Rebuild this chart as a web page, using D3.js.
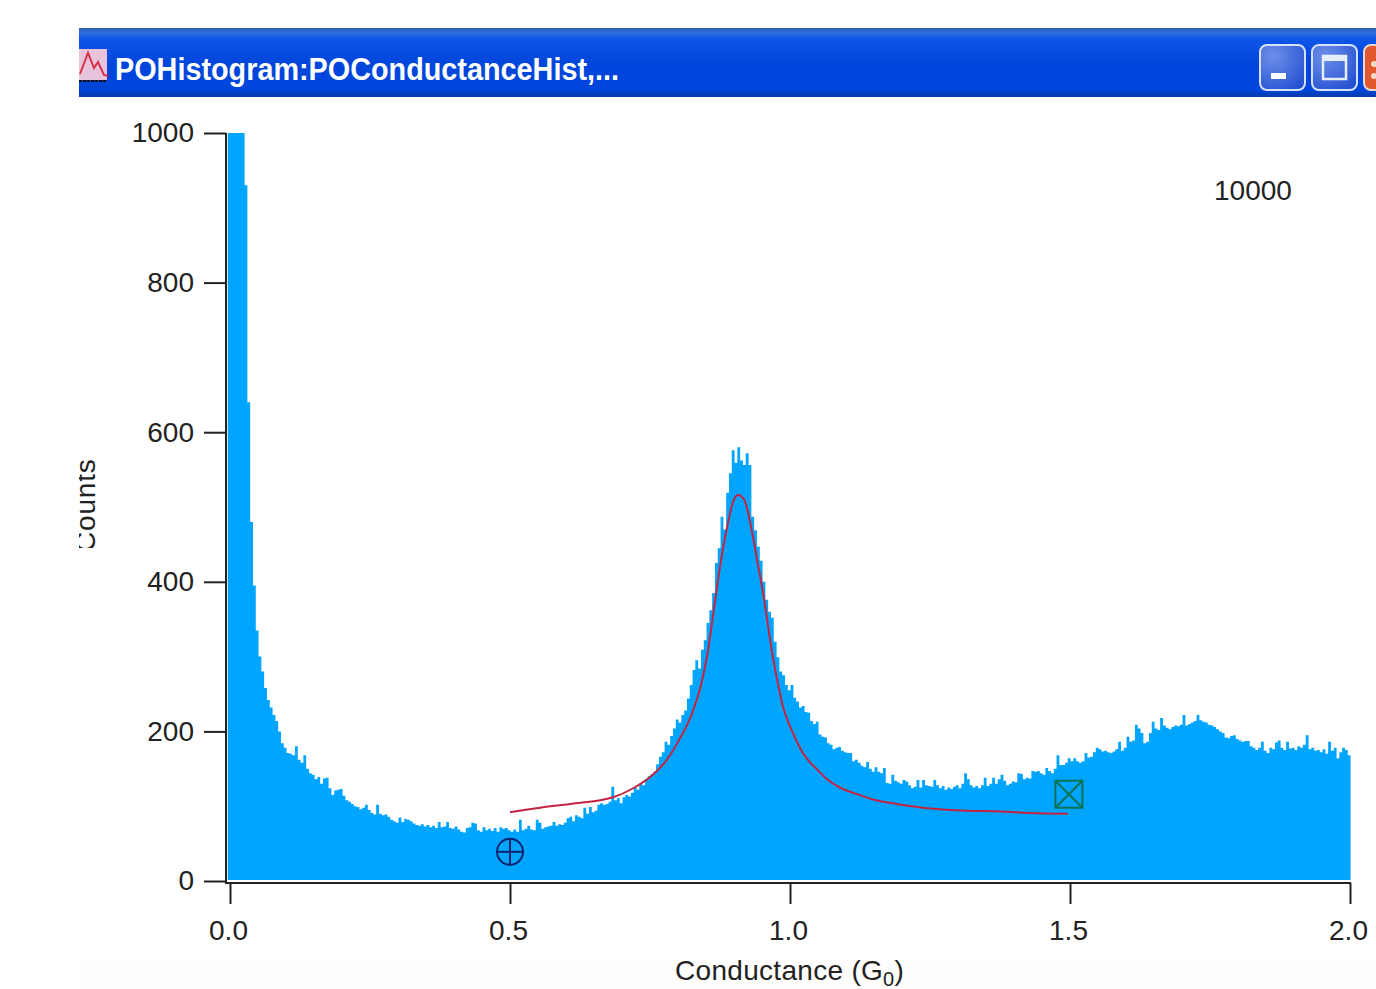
<!DOCTYPE html>
<html>
<head>
<meta charset="utf-8">
<script src="https://cdnjs.cloudflare.com/ajax/libs/d3/7.8.5/d3.min.js"></script>
<style>
    html, body { margin: 0; padding: 0; background: #fff; overflow: hidden; }
    text { font-family: "Liberation Sans", sans-serif; fill: #222; }
</style>
</head>
<body>
<script>
var title = "POHistogram:POConductanceHist,...";
var xLabel = "Conductance (G";
var xLabelSub = "0";
var yLabel = "Counts";
var totalLabel = "10000";
var xTicks = [0, 0.5, 1, 1.5, 2];
var yTicks = [0, 200, 400, 600, 800, 1000];

// histogram counts, bin width 0.005 G0
var binStart = -0.004;
var binWidth = 0.005;
var counts = [
    1000,1000,1000,1000,1000,1000,930,640,480,395,335,300,280,258,242,232,222,214,200,184,
    178,171,170,168,180,162,158,168,150,144,142,136,139,130,137,138,124,115,121,122,
    123,114,108,106,103,100,99,96,98,102,95,91,89,102,90,88,89,86,82,80,
    78,85,79,83,82,80,77,75,74,76,73,75,72,74,71,79,72,73,79,71,
    70,73,69,66,65,71,72,78,77,68,66,72,68,70,67,71,66,72,70,71,
    68,66,69,66,82,68,70,74,69,68,82,78,70,72,73,74,79,74,76,75,
    78,84,86,80,88,86,84,98,90,99,92,94,102,104,102,103,106,126,108,111,
    104,112,115,113,118,125,122,131,128,136,140,143,146,156,166,172,186,182,194,204,
    216,212,222,228,244,262,282,295,284,309,322,345,362,385,425,445,487,470,519,545,
    576,559,580,562,556,572,556,487,469,447,428,400,376,360,352,320,299,280,275,262,
    255,262,245,240,232,234,226,225,214,210,213,196,193,192,184,182,176,178,179,174,
    172,171,171,160,162,158,154,152,159,150,146,152,146,144,151,131,130,142,134,132,
    130,135,133,128,124,126,135,125,135,128,127,126,135,128,124,127,122,125,123,126,
    128,124,130,144,136,128,125,127,124,128,138,127,130,138,130,136,142,134,128,130,
    133,132,144,143,136,138,137,147,146,147,144,142,151,147,144,150,168,155,155,158,
    164,160,164,160,158,160,171,165,166,172,178,176,173,174,172,171,173,176,186,174,
    178,193,186,188,209,204,198,184,186,198,213,204,202,218,208,205,203,206,208,207,
    209,222,208,210,212,214,222,215,213,212,209,208,206,203,200,198,192,191,194,195,
    190,188,186,187,187,180,178,175,178,186,174,171,178,176,185,188,178,175,186,177,
    178,175,180,178,182,195,176,178,174,175,172,176,170,186,174,178,164,172,178,175,
    168
];

// fit curve
var fitX = [0.5,0.554,0.607,0.684,0.72,0.755,0.78,0.8,0.827,0.843,0.854,0.8625,0.875,0.889,0.898,0.907,0.918,0.929,0.941,
            0.952,0.961,0.97,0.979,0.9875,1.004,1.023,1.05,1.068,1.089,1.12,1.148,1.191,1.25,1.316,1.375,1.429,1.496];
var fitY = [92,98,103,112,124,142,162,186,228,268,310,355,420,478,506,516,510,479,430,
            385,340,297,262,233,200,171,148,135,125,116,109,103,97,94,93,91,90];

// the two cursors
var cursorA = [0.5, 39];
var cursorB = [1.498, 116];

function init(){

    var w = 1376;
    var h = 989;

    var svg = d3.select("body")
                .append("svg")
                .attr("width", w)
                .attr("height", h)
                .style("display", "block");

    var defs = svg.append("defs");

    var barGrad = defs.append("linearGradient")
                .attr("id", "barGrad")
                .attr("x1", 0).attr("x2", 0).attr("y1", 0).attr("y2", 1);
    [[0, "#2f5fb8"], [0.07, "#2f6fe0"], [0.16, "#0f55e6"], [0.5, "#0046dc"], [0.9, "#0046dc"], [1, "#0a3aa8"]].forEach(function(s){
        barGrad.append("stop").attr("offset", s[0]).attr("stop-color", s[1]);
    });

    var btnGrad = defs.append("radialGradient")
                .attr("id", "btnGrad")
                .attr("cx", 0.3).attr("cy", 0.25).attr("r", 0.95);
    btnGrad.append("stop").attr("offset", 0).attr("stop-color", "#6e8fe8");
    btnGrad.append("stop").attr("offset", 1).attr("stop-color", "#1e4cd0");

    defs.append("filter").attr("id", "soft")
        .append("feGaussianBlur").attr("stdDeviation", 0.6);

    defs.append("clipPath").attr("id", "yLabelClip")
        .append("rect").attr("x", 79).attr("y", 440).attr("width", 40).attr("height", 108);

    // faint tint at the bottom of the screenshot
    svg.append("rect")
        .attr("x", 79).attr("y", 961).attr("width", w - 79).attr("height", 28)
        .attr("fill", "#fefefd");

    // title bar
    svg.append("rect")
        .attr("x", 79).attr("y", 28).attr("width", w - 79).attr("height", 69)
        .attr("fill", "url(#barGrad)");

    var icon = svg.append("g");
    icon.append("rect")
        .attr("x", 79).attr("y", 49).attr("width", 28).attr("height", 31)
        .attr("fill", "#e8c4dc");
    icon.append("path")
        .attr("d", "M80,74 L88,53 L94,68 L98,62 L104,75 L108,76")
        .attr("fill", "none").attr("stroke", "#d8304a").attr("stroke-width", 2);
    icon.append("line")
        .attr("x1", 79).attr("x2", 107).attr("y1", 81).attr("y2", 81)
        .attr("stroke", "#111").attr("stroke-width", 2).attr("stroke-dasharray", "3 1");

    svg.append("text")
        .attr("x", 115).attr("y", 80)
        .attr("textLength", 504)
        .attr("lengthAdjust", "spacingAndGlyphs")
        .attr("font-size", 31)
        .attr("font-weight", "bold")
        .style("fill", "#fff")
        .text(title);

    // window buttons
    svg.append("rect")
        .attr("x", 1260).attr("y", 45).attr("width", 45).attr("height", 45).attr("rx", 7)
        .attr("fill", "url(#btnGrad)").attr("stroke", "#d6e2fa").attr("stroke-width", 2);
    svg.append("rect")
        .attr("x", 1271).attr("y", 73).attr("width", 15).attr("height", 6)
        .attr("fill", "#fff");
    svg.append("rect")
        .attr("x", 1312).attr("y", 45).attr("width", 45).attr("height", 45).attr("rx", 7)
        .attr("fill", "url(#btnGrad)").attr("stroke", "#d6e2fa").attr("stroke-width", 2);
    svg.append("rect")
        .attr("x", 1323).attr("y", 56).attr("width", 23).attr("height", 23)
        .attr("fill", "none").attr("stroke", "#e6eefc").attr("stroke-width", 2.5);
    svg.append("rect")
        .attr("x", 1323).attr("y", 56).attr("width", 23).attr("height", 5)
        .attr("fill", "#e6eefc");
    svg.append("rect")
        .attr("x", 1364).attr("y", 45).attr("width", 30).attr("height", 45).attr("rx", 7)
        .attr("fill", "#e0582c").attr("stroke", "#e8d8d0").attr("stroke-width", 2);
    svg.append("circle")
        .attr("cx", 1374).attr("cy", 64).attr("r", 3).attr("fill", "#f4d8c8");
    svg.append("circle")
        .attr("cx", 1374).attr("cy", 76).attr("r", 3).attr("fill", "#f4d8c8");

    var x = d3.scaleLinear().domain([0, 2]).range([230, 1350]);
    var y = d3.scaleLinear().domain([0, 1000]).range([881, 133]);

    var area = d3.area()
                .x(function(d) { return x(d.x); })
                .y0(y(0) - 1)
                .y1(function(d) { return y(d.v); })
                .curve(d3.curveStepAfter);

    var bins = counts.map(function(v, i) { return {x: binStart + i * binWidth, v: v}; });
    bins.push({x: binStart + counts.length * binWidth, v: counts[counts.length - 1]});

    svg.append("path")
        .datum(bins)
        .attr("d", area)
        .attr("fill", "#00a5ff")
        .attr("filter", "url(#soft)");

    var fitLine = d3.line()
                .x(function(d) { return x(d[0]); })
                .y(function(d) { return y(d[1]); })
                .curve(d3.curveMonotoneX);

    svg.append("path")
        .datum(fitX.map(function(v, i) { return [v, fitY[i]]; }))
        .attr("d", fitLine)
        .attr("fill", "none")
        .attr("stroke", "#c42440")
        .attr("stroke-width", 2);

    // cursor A, round
    var ax = x(cursorA[0]), ay = y(cursorA[1]);
    var curA = svg.append("g").attr("stroke", "#10246e").attr("stroke-width", 2).attr("fill", "none");
    curA.append("circle").attr("cx", ax).attr("cy", ay).attr("r", 13);
    curA.append("line").attr("x1", ax - 13).attr("x2", ax + 13).attr("y1", ay).attr("y2", ay);
    curA.append("line").attr("x1", ax).attr("x2", ax).attr("y1", ay - 13).attr("y2", ay + 13);

    // cursor B, square
    var bx = x(cursorB[0]), by = y(cursorB[1]);
    var curB = svg.append("g").attr("stroke", "#0a7250").attr("stroke-width", 2).attr("fill", "none");
    curB.append("rect").attr("x", bx - 13.5).attr("y", by - 13.5).attr("width", 27).attr("height", 27);
    curB.append("line").attr("x1", bx - 13).attr("x2", bx + 13).attr("y1", by - 13).attr("y2", by + 13);
    curB.append("line").attr("x1", bx - 13).attr("x2", bx + 13).attr("y1", by + 13).attr("y2", by - 13);

    // axes
    var yAxis = d3.axisLeft(y)
                .tickValues(yTicks)
                .tickFormat(d3.format("d"))
                .tickSize(22)
                .tickSizeOuter(0)
                .tickPadding(10);
    var xAxis = d3.axisBottom(x)
                .tickValues(xTicks)
                .tickFormat(d3.format(".1f"))
                .tickSize(21)
                .tickPadding(16);

    var gy = svg.append("g").attr("transform", "translate(226,0)").call(yAxis);
    var gx = svg.append("g").attr("transform", "translate(0,883)").call(xAxis);

    gy.select(".domain").remove();
    gx.select(".domain").remove();

    svg.append("line")
        .attr("x1", 226).attr("x2", 226).attr("y1", 133).attr("y2", 884)
        .attr("stroke", "#222").attr("stroke-width", 2);
    svg.append("line")
        .attr("x1", 225).attr("x2", 1351).attr("y1", 883).attr("y2", 883)
        .attr("stroke", "#222").attr("stroke-width", 2);

    [gx, gy].forEach(function(g) {
        g.selectAll(".tick line").attr("stroke", "#222").attr("stroke-width", 2);
        g.selectAll(".tick text")
            .attr("font-size", 28)
            .style("font-family", "'Liberation Sans', sans-serif")
            .style("fill", "#222");
    });
    gx.selectAll(".tick text").attr("dx", -2);

    // axis titles
    var xt = svg.append("text")
        .attr("x", 675).attr("y", 980)
        .attr("font-size", 28)
        .attr("letter-spacing", 0.3);
    xt.append("tspan").text(xLabel);
    xt.append("tspan").attr("font-size", 20).attr("dy", 6).text(xLabelSub);
    xt.append("tspan").attr("dy", -6).text(")");

    svg.append("g")
        .attr("clip-path", "url(#yLabelClip)")
        .append("text")
        .attr("transform", "translate(95,552) rotate(-90)")
        .attr("font-size", 28)
        .attr("letter-spacing", 0.8)
        .text(yLabel);

    svg.append("text")
        .attr("x", 1214).attr("y", 200)
        .attr("font-size", 28)
        .text(totalLabel);
}

window.onload = init;
</script>
</body>
</html>
